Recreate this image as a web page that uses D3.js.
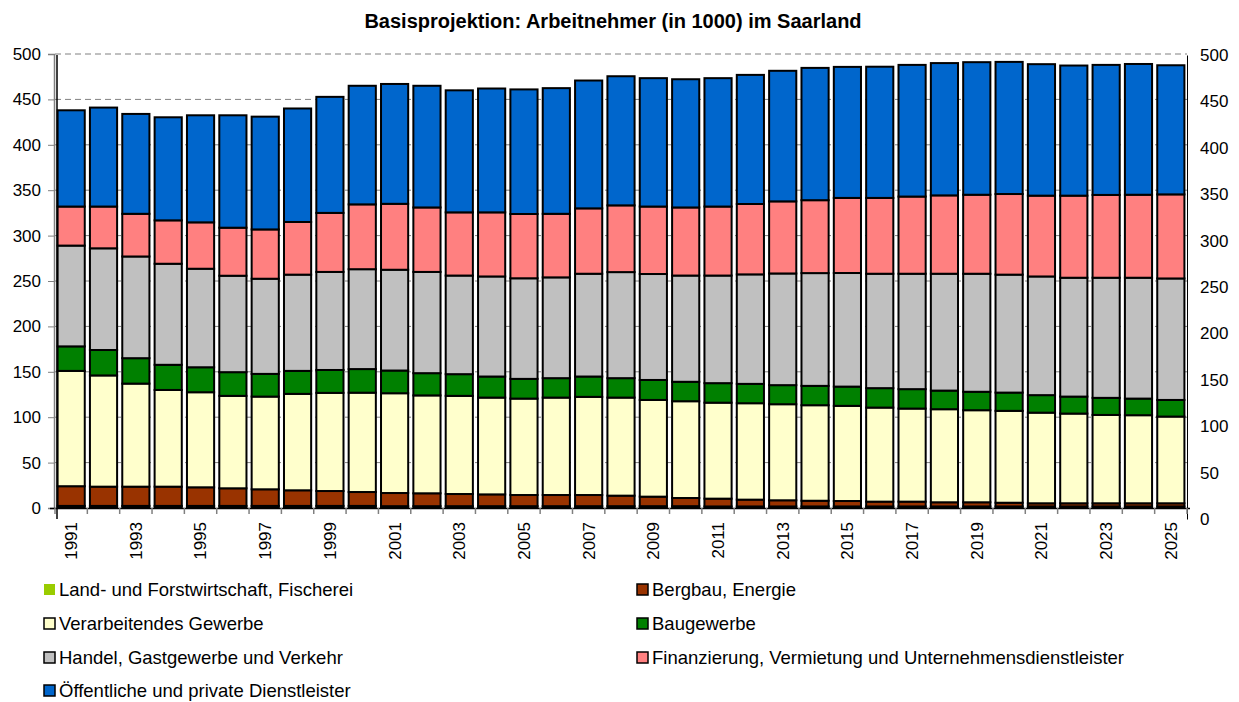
<!DOCTYPE html>
<html>
<head>
<meta charset="utf-8">
<script src="https://cdn.jsdelivr.net/npm/d3@7"></script>
<style>
  body { margin: 0; background: #fff; }
  svg { font-family: Arial, "Liberation Sans", sans-serif; }
</style>
</head>
<body>
<svg id="chart"></svg>
<script>
const years = d3.range(1991, 2026).map(String);

const seriesNames = [
  "Land- und Forstwirtschaft, Fischerei",
  "Bergbau, Energie",
  "Verarbeitendes Gewerbe",
  "Baugewerbe",
  "Handel, Gastgewerbe und Verkehr",
  "Finanzierung, Vermietung und Unternehmensdienstleister",
  "Öffentliche und private Dienstleister"
];
const seriesColors = ["#99CC00", "#993300", "#FFFFCC", "#008000", "#C0C0C0", "#FF8080", "#0066CC"];

const landwirtschaft = [2.3, 2.3, 2.3, 2.3, 2.3, 2.3, 2.3, 2.3, 2.3, 2.3,
  2.0, 2.0, 2.0, 2.0, 2.0, 2.0, 2.0, 2.0, 2.0, 2.0,
  1.7, 1.7, 1.7, 1.7, 1.7, 1.7, 1.7, 1.7, 1.7, 1.7, 1.7, 1.7, 1.7, 1.7, 1.7];
const bergbau = [21.7, 21.2, 21.2, 21.2, 20.5, 19.4, 18.3, 17.2, 16.4, 15.3,
  14.5, 14.2, 13.4, 13.0, 12.3, 12.3, 12.3, 11.6, 10.5, 9.0,
  8.6, 7.5, 6.8, 6.3, 6.0, 5.3, 5.3, 4.6, 4.6, 4.1, 3.5, 3.5, 3.5, 3.5, 3.5];
const verarbeitend = [127.0, 122.5, 113.5, 106.5, 104.7, 101.8, 102.1, 106.2, 108.1, 109.4,
  109.9, 107.8, 108.1, 106.6, 106.2, 107.3, 108.1, 108.0, 106.5, 106.6,
  105.7, 106.2, 105.8, 105.2, 104.8, 103.6, 102.5, 102.5, 101.4, 101.2, 99.8, 98.8, 97.3, 97.0, 95.5];
const bau = [27.0, 28.0, 28.0, 27.7, 27.5, 26.1, 25.0, 25.3, 25.2, 26.0,
  25.0, 24.5, 23.9, 23.2, 21.7, 21.4, 22.4, 21.4, 22.0, 21.4,
  21.5, 21.3, 21.0, 21.3, 21.2, 21.4, 21.4, 20.5, 20.3, 20.1, 19.3, 18.7, 18.8, 18.3, 18.3];
const handel = [111.0, 112.0, 112.0, 111.3, 108.5, 106.2, 104.8, 106.0, 108.0, 110.0,
  111.0, 111.5, 108.6, 110.2, 110.8, 111.0, 113.2, 116.8, 116.7, 117.0,
  118.5, 120.6, 123.0, 124.2, 125.1, 126.0, 127.1, 128.7, 130.0, 129.9, 130.7, 130.9, 132.3, 133.1, 133.8];
const finanzierung = [43.0, 46.0, 47.0, 47.8, 51.1, 52.9, 54.3, 58.0, 65.0, 71.4,
  72.6, 71.0, 69.6, 70.6, 70.8, 70.0, 72.0, 73.5, 74.3, 75.0,
  76.0, 77.5, 79.4, 80.3, 82.7, 83.5, 85.0, 86.3, 87.0, 88.8, 89.0, 90.4, 91.2, 91.4, 92.6];
const oeffentlich = [106.0, 109.0, 110.0, 113.5, 117.9, 123.8, 124.2, 125.0, 127.8, 130.6,
  132.0, 134.0, 134.4, 136.4, 137.2, 138.4, 140.8, 142.2, 141.4, 141.2,
  141.4, 142.2, 143.8, 145.7, 144.3, 144.5, 145.0, 145.7, 146.0, 145.5, 144.8, 143.3, 143.2, 144.0, 142.2];

const yTicks = [0, 50, 100, 150, 200, 250, 300, 350, 400, 450, 500];
const title = "Basisprojektion: Arbeitnehmer (in 1000) im Saarland";

const width = 1239, height = 702;
const allSeries = [landwirtschaft, bergbau, verarbeitend, bau, handel, finanzierung, oeffentlich];
const rows = years.map((yr, i) => {
  const row = { year: yr };
  seriesNames.forEach((name, s) => { row[name] = allSeries[s][i]; });
  return row;
});

const svg = d3.select("#chart").attr("width", width).attr("height", height);

const x = d3.scaleBand().domain(years).range([55, 1187]).paddingInner(0.16).paddingOuter(0.08);
const y = d3.scaleLinear().domain([0, 500]).range([508, 54]);
const y2 = d3.scaleLinear().domain([0, 500]).range([519, 55]);

// title
svg.append("text")
  .attr("x", 613).attr("y", 28)
  .attr("text-anchor", "middle")
  .attr("font-size", 20).attr("font-weight", "bold")
  .text(title);

// dashed gridlines behind the bars
svg.append("g").selectAll("line")
  .data(yTicks.filter(d => d > 0))
  .enter().append("line")
  .attr("x1", 55).attr("x2", 1187)
  .attr("y1", d => y(d)).attr("y2", d => y(d))
  .attr("stroke", "#808080").attr("stroke-width", 1)
  .attr("stroke-dasharray", "6,4");

// stacked bars
const stack = d3.stack().keys(seriesNames)(rows);
svg.append("g").selectAll("g")
  .data(stack)
  .enter().append("g")
  .attr("fill", (d, i) => seriesColors[i])
  .selectAll("rect")
  .data(d => d)
  .enter().append("rect")
  .attr("x", d => x(d.data.year))
  .attr("y", d => y(d[1]))
  .attr("width", x.bandwidth())
  .attr("height", d => y(d[0]) - y(d[1]))
  .attr("stroke", "#000").attr("stroke-width", 2);

// left axis
const leftAxis = svg.append("g")
  .attr("transform", "translate(54,0)")
  .call(d3.axisLeft(y).tickValues(yTicks).tickSize(6).tickPadding(7));
leftAxis.select(".domain").attr("stroke", "#808080").attr("stroke-width", 1.5);
leftAxis.selectAll(".tick line").attr("stroke", "#808080");
leftAxis.selectAll("text").attr("font-size", 17).attr("fill", "#000");

// secondary scale line on the left
svg.append("line")
  .attr("x1", 57).attr("x2", 57).attr("y1", y2(500)).attr("y2", y2(0))
  .attr("stroke", "#000").attr("stroke-width", 1.5);

// right axis
const rightAxis = svg.append("g")
  .attr("transform", "translate(1187,0)")
  .call(d3.axisRight(y2).tickValues(yTicks).tickSize(0).tickPadding(13));
rightAxis.select(".domain").attr("stroke", "#000").attr("stroke-width", 1);
rightAxis.selectAll("text").attr("font-size", 17).attr("fill", "#000");

// x axis: ticks between categories, labels every second year
const step = x.step();
const xAxisG = svg.append("g");
xAxisG.append("line")
  .attr("x1", 50).attr("x2", 1190).attr("y1", 508.5).attr("y2", 508.5)
  .attr("stroke", "#000").attr("stroke-width", 1.5);
xAxisG.selectAll("line.tick")
  .data(d3.range(years.length + 1))
  .enter().append("line")
  .attr("class", "tick")
  .attr("x1", i => 55 + i * step).attr("x2", i => 55 + i * step)
  .attr("y1", 508).attr("y2", 514)
  .attr("stroke", "#808080").attr("stroke-width", 1.5);
xAxisG.selectAll("text")
  .data(years.filter((d, i) => i % 2 === 0))
  .enter().append("text")
  .attr("transform", d => `translate(${x(d) + x.bandwidth() / 2},522) rotate(-90)`)
  .attr("text-anchor", "end")
  .attr("dy", "0.35em")
  .attr("font-size", 17)
  .text(d => d);

// legend
const legendPos = [
  [44, 590], [637, 590],
  [44, 624], [637, 624],
  [44, 658], [637, 658],
  [44, 691]
];
const legend = svg.append("g").selectAll("g")
  .data(seriesNames)
  .enter().append("g")
  .attr("transform", (d, i) => `translate(${legendPos[i][0]},${legendPos[i][1]})`);
legend.append("rect")
  .attr("x", 0).attr("y", -6).attr("width", 11).attr("height", 11)
  .attr("fill", (d, i) => seriesColors[i])
  .attr("stroke", (d, i) => i === 0 ? "none" : "#000")
  .attr("stroke-width", 1.5);
legend.append("text")
  .attr("x", 15).attr("dy", "0.35em")
  .attr("font-size", 18.5)
  .text(d => d);
</script>
</body>
</html>
